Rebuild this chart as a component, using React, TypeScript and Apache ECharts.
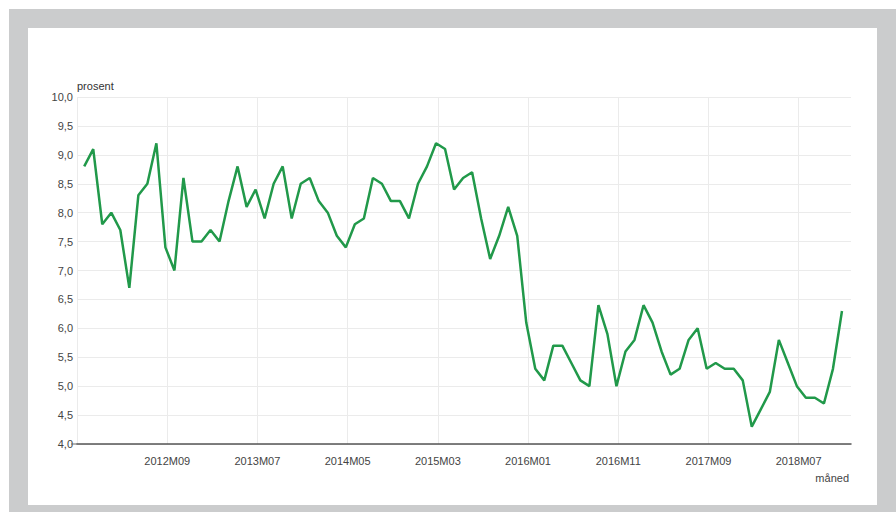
import React, { useEffect, useRef } from "react";
import * as echarts from "echarts";

// Monthly categories from 2011M12 to 2018M12
const startYear = 2011;
const startMonth = 12;
const monthCount = 85;
const months: string[] = [];
for (let k = 0; k < monthCount; k++) {
  const m0 = startMonth - 1 + k;
  const y = startYear + Math.floor(m0 / 12);
  const m = (m0 % 12) + 1;
  months.push(`${y}M${m < 10 ? "0" + m : m}`);
}

const tickLabels = ["2012M09", "2013M07", "2014M05", "2015M03", "2016M01", "2016M11", "2017M09", "2018M07"];

const values = [
  8.8, 9.1, 7.8, 8.0, 7.7, 6.7, 8.3, 8.5, 9.2, 7.4,
  7.0, 8.6, 7.5, 7.5, 7.7, 7.5, 8.2, 8.8, 8.1, 8.4,
  7.9, 8.5, 8.8, 7.9, 8.5, 8.6, 8.2, 8.0, 7.6, 7.4,
  7.8, 7.9, 8.6, 8.5, 8.2, 8.2, 7.9, 8.5, 8.8, 9.2,
  9.1, 8.4, 8.6, 8.7, 7.9, 7.2, 7.6, 8.1, 7.6, 6.1,
  5.3, 5.1, 5.7, 5.7, 5.4, 5.1, 5.0, 6.4, 5.9, 5.0,
  5.6, 5.8, 6.4, 6.1, 5.6, 5.2, 5.3, 5.8, 6.0, 5.3,
  5.4, 5.3, 5.3, 5.1, 4.3, 4.6, 4.9, 5.8, 5.4, 5.0,
  4.8, 4.8, 4.7, 5.3, 6.3,
];

const yTicks = [4, 4.5, 5, 5.5, 6, 6.5, 7, 7.5, 8, 8.5, 9, 9.5, 10];

export default function App() {
  const ref = useRef<HTMLDivElement>(null);
  useEffect(() => {
    if (!ref.current) return;
    const chart = echarts.init(ref.current, undefined, { renderer: "svg" });
    const base = months.indexOf(tickLabels[0]);
    const seriesData = values.map((v, i) => [i - base, v]);
    const font = "'Liberation Sans', Arial, sans-serif";
    chart.setOption({
      animation: false,
      backgroundColor: "#ffffff",
      graphic: [
        { type: "rect", z: -20, silent: true, shape: { x: 9, y: 9, width: 887, height: 503 }, style: { fill: "#cbcccd" } },
        { type: "rect", z: -19, silent: true, shape: { x: 28, y: 28, width: 849, height: 477 }, style: { fill: "#ffffff" } },
        {
          type: "text", z: 10, x: 849, y: 478,
          style: { text: "måned", fill: "#444", font: `11px ${font}`, align: "right", verticalAlign: "middle" },
        },
        {
          type: "line", z: 10, silent: true,
          shape: { x1: 71, y1: 444, x2: 77, y2: 444 },
          style: { stroke: "#666", lineWidth: 1 },
        },
      ],
      grid: { left: 77, right: 45, top: 97, bottom: 68, containLabel: false },
      xAxis: {
        type: "value",
        min: -base - 0.8,
        max: values.length - 1 - base + 1,
        interval: 10,
        axisLine: { show: true, onZero: false, lineStyle: { color: "#555", width: 1.5 } },
        axisTick: { show: false },
        splitLine: { show: true, showMaxLine: false, lineStyle: { color: "#ebebeb", width: 1 } },
        axisLabel: {
          showMinLabel: false,
          showMaxLabel: false,
          margin: 11,
          color: "#444",
          fontSize: 11,
          fontFamily: font,
          formatter: (val: number) => {
            const idx = Math.round(val + base);
            const lbl = months[idx];
            return lbl && tickLabels.indexOf(lbl) >= 0 ? lbl : "";
          },
        },
      },
      yAxis: {
        type: "value",
        min: yTicks[0],
        max: yTicks[yTicks.length - 1],
        interval: 0.5,
        name: "prosent",
        nameLocation: "end",
        nameGap: 9,
        nameTextStyle: { color: "#333", fontSize: 11, fontFamily: font, align: "left", verticalAlign: "middle" },
        axisLine: { show: false, onZero: false },
        axisTick: { show: false },
        splitLine: { show: true, lineStyle: { color: "#ebebeb", width: 1 } },
        axisLabel: {
          margin: 4,
          color: "#444",
          fontSize: 11,
          fontFamily: font,
          formatter: (v: number) => v.toFixed(1).replace(".", ","),
        },
      },
      series: [
        {
          type: "line",
          data: seriesData,
          symbol: "none",
          lineStyle: { color: "#21994a", width: 2.5 },
          itemStyle: { color: "#21994a" },
        },
      ],
    });
    return () => chart.dispose();
  }, []);
  return (
    <div style={{ position: "absolute", left: 0, top: 0, width: 896, height: 512 }}>
      <div ref={ref} style={{ width: 896, height: 512 }} />
    </div>
  );
}
